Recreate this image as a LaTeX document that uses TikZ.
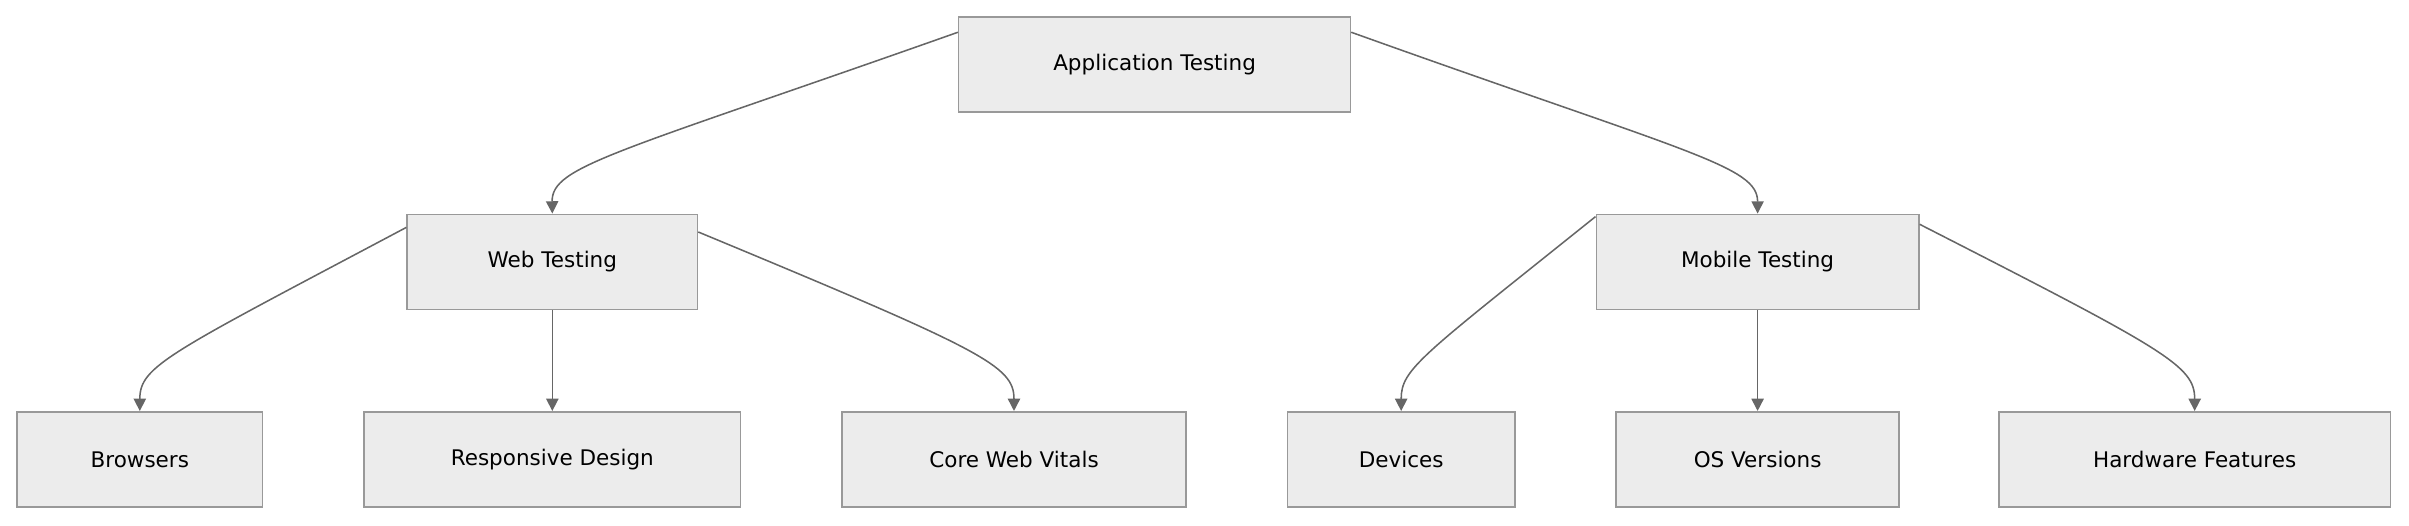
\documentclass[tikz,border=0pt]{standalone}
\usepackage{fontspec}
\setmainfont{DejaVu Sans}
\usetikzlibrary{arrows.meta}
\definecolor{boxfill}{HTML}{ECECEC}
\definecolor{boxdraw}{HTML}{999999}
\definecolor{edge}{HTML}{666666}
\begin{document}
\begin{tikzpicture}[x=1pt,y=-1pt,
  box/.style={draw=boxdraw,fill=boxfill,line width=1pt,minimum height=62pt,inner sep=0pt,font=\fontsize{14}{16}\selectfont},
  con/.style={draw=edge,line width=1pt,-{Triangle[length=8pt,width=8pt]}}]
\useasboundingbox (0,0) rectangle (1568,342);
\node[box,minimum width=255pt] (app) at (751.5,42) {Application Testing};
\node[box,minimum width=189pt] (web) at (359.5,170.5) {Web Testing};
\node[box,minimum width=210pt] (mob) at (1144,170.5) {Mobile Testing};
\node[box,minimum width=160pt] (br) at (91,299) {Browsers};
\node[box,minimum width=245pt] (rd) at (359.5,299) {Responsive Design};
\node[box,minimum width=224pt] (cwv) at (660,299) {Core Web Vitals};
\node[box,minimum width=148pt] (dev) at (912,299) {Devices};
\node[box,minimum width=184pt] (os) at (1144,299) {OS Versions};
\node[box,minimum width=255pt] (hw) at (1428.5,299) {Hardware Features};
\draw[con] ([yshift=21pt]app.west) .. controls (400,100) and (359,108) .. (web.north);
\draw[con] ([yshift=21pt]app.east) .. controls (1100,100) and (1144,108) .. (mob.north);
\draw[con] ([yshift=22.5pt]web.west) .. controls (110,230) and (91,238) .. (br.north);
\draw[con] (web.south) -- (rd.north);
\draw[con] ([yshift=19.5pt]web.east) .. controls (640,228) and (660,238) .. (cwv.north);
\draw[con] ([yshift=29.5pt]mob.west) .. controls (925,232) and (912,240) .. (dev.north);
\draw[con] (mob.south) -- (os.north);
\draw[con] ([yshift=24.5pt]mob.east) .. controls (1410,228) and (1428.5,238) .. (hw.north);
\end{tikzpicture}
\end{document}
